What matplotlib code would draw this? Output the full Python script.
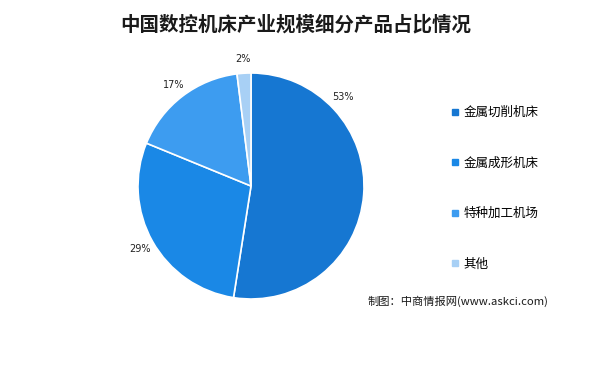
import matplotlib
matplotlib.use("Agg")
import matplotlib.pyplot as plt
from matplotlib.lines import Line2D
import numpy as np

plt.rcParams['font.family'] = ['Noto Sans CJK SC', 'DejaVu Sans']

categories = ["金属切削机床", "金属成形机床", "特种加工机场", "其他"]
shares = [53, 29, 17, 2]
colors = ["#1677d2", "#1a88e6", "#3d9cf0", "#a8d0f5"]
title = "中国数控机床产业规模细分产品占比情况"
source = "制图：中商情报网(www.askci.com)"

fig = plt.figure(figsize=(6.16, 3.68), dpi=100)
fig.patch.set_facecolor("white")

W, H = 616, 368
cx, cy, r = 251, 186, 113
ax = fig.add_axes([(cx - r) / W, (H - cy - r) / H, 2 * r / W, 2 * r / H])

wedges, _ = ax.pie(shares, colors=colors, startangle=90, counterclock=False,
                   wedgeprops=dict(edgecolor="white", linewidth=1.2))
ax.set_xlim(-1, 1)
ax.set_ylim(-1, 1)
ax.set_aspect("equal")
ax.axis("off")

# percentage labels just outside each wedge; the first label sits higher up
label_angle_override = {0: 44}
for i, w in enumerate(wedges):
    ang = label_angle_override.get(i, (w.theta1 + w.theta2) / 2)
    d = 1.13
    x, y = d * np.cos(np.radians(ang)), d * np.sin(np.radians(ang))
    ax.text(x, y, f"{shares[i]}%", ha="center", va="center", fontsize=7,
            family="DejaVu Sans", color="#222222")

fig.text(296 / W, 1 - 25 / H, title, ha="center", va="center",
         fontsize=14, fontweight="bold", color="#1a1a1a")

handles = [Line2D([0], [0], marker="s", linestyle="none", markersize=5,
                  markerfacecolor=c, markeredgecolor=c) for c in colors]
fig.legend(handles, categories, loc="upper left", bbox_to_anchor=(446 / W, 1 - 101 / H),
           frameon=False, fontsize=9, labelspacing=3.0, handlelength=0.6,
           handletextpad=0.4, borderaxespad=0)

fig.text(368 / W, 1 - 301 / H, source, ha="left", va="center", fontsize=8.1,
         color="#1a1a1a")

fig.savefig("out.png", dpi=100, facecolor="white")
